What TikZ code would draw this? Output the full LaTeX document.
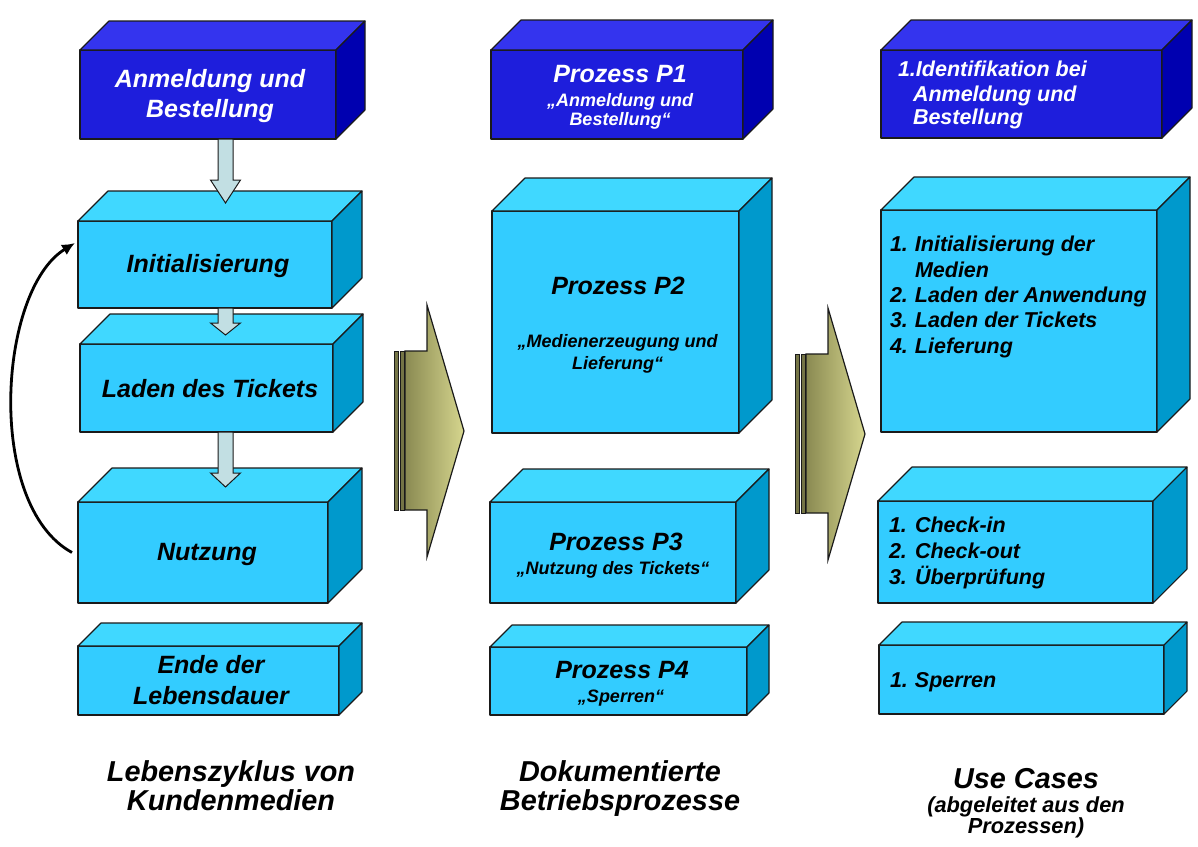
\documentclass[tikz,border=0pt]{standalone}
\usepackage{fontspec}
\setmainfont{Liberation Sans}
\usetikzlibrary{arrows.meta,calc}
\definecolor{ltfront}{HTML}{33CCFF}
\definecolor{lttop}{HTML}{40D8FF}
\definecolor{ltside}{HTML}{0099CC}
\definecolor{dkfront}{HTML}{1E1EDC}
\definecolor{dktop}{HTML}{3434EE}
\definecolor{dkside}{HTML}{0000B0}
\definecolor{flowfill}{HTML}{C2DFE3}
\definecolor{olivedark}{HTML}{8A8A52}
\definecolor{olivelight}{HTML}{EEEE9A}
\definecolor{olivemid}{HTML}{D6D68E}
\definecolor{edge}{HTML}{1A1A1A}
\newcommand\fsz[2]{\fontsize{#1}{#2}\selectfont}
\newcommand\cuboid[7]{%
  \node[#7F, minimum width={(#4-#2)*1pt}, minimum height={(#5-#3)*1pt}] (#1) at (#2,#3) {};
  \path[#7T] (#1.north west) -- ++(#6,-#6) -- ++({#4-#2},0) -- (#1.north east) -- cycle;
  \path[#7S] (#1.north east) -- ++(#6,-#6) -- ++(0,{#5-#3}) -- (#1.south east) -- cycle;
}
\tikzset{
  face/.style={draw=edge, line width=1.1pt, line join=round},
  ltF/.style={face, fill=ltfront, anchor=north west, inner sep=0pt, outer sep=0pt},
  ltT/.style={face, fill=lttop},
  ltS/.style={face, fill=ltside},
  dkF/.style={face, fill=dkfront, anchor=north west, inner sep=0pt, outer sep=0pt},
  dkT/.style={face, fill=dktop},
  dkS/.style={face, fill=dkside},
  txt/.style={inner sep=0pt, outer sep=0pt},
  big/.style={txt, font=\bfseries\itshape\fsz{25}{30}},
  sub/.style={txt, font=\bfseries\itshape\fsz{18}{20}},
  item/.style={txt, anchor=base west, font=\bfseries\itshape\fsz{21.5}{25}},
  title/.style={txt, align=center, font=\bfseries\itshape\fsz{28.8}{29}},
  flow/.style={draw=edge, line width=1pt, fill=flowfill, line join=miter},
  bigarr/.style={draw=edge, line width=1.2pt, line join=miter, left color=olivedark, middle color=olivelight, right color=olivemid},
  stripe/.style={draw=edge, line width=0.9pt, fill=olivedark!85!black},
  loopline/.style={draw=black, line width=2.8pt, -{Latex[length=13pt,width=12pt]}},
}
\begin{document}
\begin{tikzpicture}[x=1pt, y=-1pt]
\useasboundingbox (0,0) rectangle (1198,846);
% left column
\cuboid{anm}{80}{50}{336}{139}{29}{dk}
\cuboid{init}{78}{221}{332}{308}{30}{lt}
\cuboid{lade}{80}{344}{333}{432}{30}{lt}
\cuboid{nutz}{78}{502}{328}{603}{34}{lt}
\cuboid{ende}{78}{646}{339}{715}{23}{lt}
% middle column
\cuboid{pa}{491}{50}{743}{139}{30}{dk}
\cuboid{pb}{492}{211}{739}{433}{33}{lt}
\cuboid{pc}{490}{502}{736}{603}{33}{lt}
\cuboid{pd}{490}{647}{747}{715}{22}{lt}
% right column
\cuboid{ua}{881}{50}{1162}{138}{30}{dk}
\cuboid{ub}{881}{210}{1157}{432}{33}{lt}
\cuboid{uc}{878}{501}{1153}{603}{34}{lt}
\cuboid{ud}{879}{645}{1164}{714}{23}{lt}
% small flow arrows
\draw[flow] ($(anm.south)+(10,0)$) -- ++(15,0) -- ++(0,41) -- ++(7.5,0) -- ++(-15,23) -- ++(-15,-23) -- ++(7.5,0) -- cycle;
\draw[flow] ($(init.south)+(13,0)$) -- ++(15,0) -- ++(0,15) -- ++(7.5,0) -- ++(-15,12) -- ++(-15,-12) -- ++(7.5,0) -- cycle;
\draw[flow] ($(lade.south)+(11.5,0)$) -- ++(15,0) -- ++(0,41) -- ++(7.5,0) -- ++(-15,14) -- ++(-15,-14) -- ++(7.5,0) -- cycle;
% loop arrow
\draw[loopline] ($(nutz.west)+(-6,0)$) .. controls (-15,505) and (-2,290) .. ($(init.west)+(-3,-21.5)$);
% big striped arrows
\foreach \dx/\dy in {0/0, 401/3}{
  \begin{scope}[shift={(\dx,\dy)}]
    \draw[stripe] (394,351) rectangle (398,510);
    \draw[stripe] (400,351) rectangle (404,510);
    \draw[bigarr] (405,351) -- (427,351) -- (427,305) -- (464,431) -- (427,557) -- (427,510) -- (405,510) -- cycle;
  \end{scope}
}
% texts left
\node[big, white, align=center] (tanm) at (210,96) {Anmeldung und\\Bestellung};
\node[big, anchor=base] (tinit) at (208,272) {Initialisierung};
\node[big, anchor=base] (tlade) at (210,397) {Laden des Tickets};
\node[big, anchor=base] (tnutz) at (207,560) {Nutzung};
\node[big, align=center, font=\bfseries\itshape\fsz{25}{31}] (tende) at (211,680) {Ende der\\Lebensdauer};
\node[title] (tleft) at (231,786) {Lebenszyklus von\\Kundenmedien};
% texts middle
\node[big, white, anchor=base] (tpa) at (620,82) {Prozess P1};
\node[sub, white, align=center, font=\bfseries\itshape\fsz{18}{19}] (spa) at (620,111) {„Anmeldung und\\Bestellung“};
\node[big, anchor=base] (tpb) at (618,294) {Prozess P2};
\node[sub, align=center, font=\bfseries\itshape\fsz{18}{22}] (spb) at (617.5,353.5) {„Medienerzeugung und\\Lieferung“};
\node[big, anchor=base] (tpc) at (616,550) {Prozess P3};
\node[sub, anchor=base] (spc) at (613,574) {„Nutzung des Tickets“};
\node[big, anchor=base] (tpd) at (622,678) {Prozess P4};
\node[sub, anchor=base] (spd) at (621,702) {„Sperren“};
\node[title] (tmid) at (620,789) {Dokumentierte\\Betriebsprozesse};
% texts right
\node[item, white, font=\bfseries\itshape\fsz{21.5}{24}] (uaa) at (898,76) {1.Identifikation bei};
\node[item, white, font=\bfseries\itshape\fsz{21.5}{24}] (uab) at (913,101) {Anmeldung und};
\node[item, white, font=\bfseries\itshape\fsz{21.5}{24}] (uac) at (913,124) {Bestellung};
\node[item] (uba) at (890,251) {\makebox[25pt][l]{1.}Initialisierung der};
\node[item] (ubb) at (915,277) {Medien};
\node[item] (ubc) at (890,302) {\makebox[25pt][l]{2.}Laden der Anwendung};
\node[item] (ubd) at (890,327) {\makebox[25pt][l]{3.}Laden der Tickets};
\node[item] (ube) at (890,353) {\makebox[25pt][l]{4.}Lieferung};
\node[item] (uca) at (889,532) {\makebox[26pt][l]{1.}Check-in};
\node[item] (ucb) at (889,558) {\makebox[26pt][l]{2.}Check-out};
\node[item] (ucc) at (889,584) {\makebox[26pt][l]{3.}Überprüfung};
\node[item] (uda) at (890,687) {\makebox[25pt][l]{1.}Sperren};
\node[title, anchor=base] (tuc) at (1026,788) {Use Cases};
\node[txt, align=center, font=\bfseries\itshape\fsz{21.8}{20}] (tuc2) at (1026,817.5) {(abgeleitet aus den\\Prozessen)};
\end{tikzpicture}
\end{document}
